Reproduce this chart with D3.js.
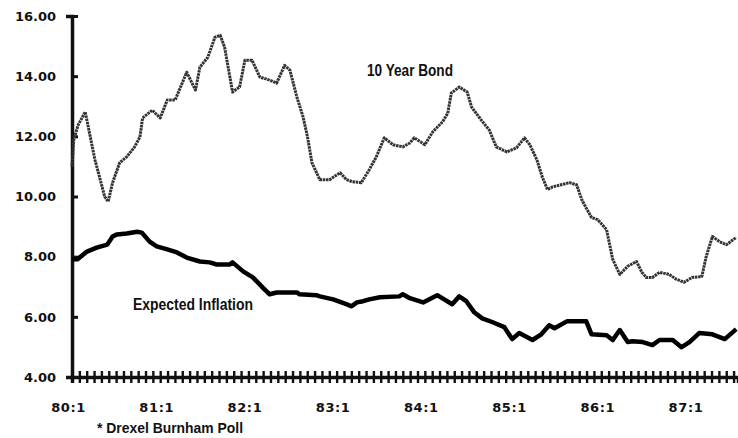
<!DOCTYPE html>
<html>
<head>
<meta charset="utf-8">
<script src="https://cdn.jsdelivr.net/npm/d3@7"></script>
<style>
  body { margin: 0; background: #fff; }
  svg text { fill: #111; }
</style>
</head>
<body>
<svg id="chart" width="738" height="438"></svg>
<script>
// quarter labels along the bottom
const yearLabels = ["80:1", "81:1", "82:1", "83:1", "84:1", "85:1", "86:1", "87:1"];
const yearValues = [1980, 1981, 1982, 1983, 1984, 1985, 1986, 1987];
const yTicks = [4, 6, 8, 10, 12, 14, 16];

// 10 year bond (roughly weekly)
const bondDates = [1980.00, 1980.02, 1980.07, 1980.15, 1980.26, 1980.32, 1980.37, 1980.41, 1980.46, 1980.54,
  1980.62, 1980.71, 1980.77, 1980.80, 1980.91, 1981.00, 1981.08, 1981.17, 1981.30, 1981.40,
  1981.45, 1981.54, 1981.62, 1981.68, 1981.73, 1981.82, 1981.90, 1981.96, 1982.04, 1982.13,
  1982.24, 1982.32, 1982.41, 1982.47, 1982.55, 1982.62, 1982.67, 1982.72, 1982.81, 1982.92,
  1983.04, 1983.11, 1983.18, 1983.28, 1983.37, 1983.45, 1983.54, 1983.64, 1983.75, 1983.83,
  1983.88, 1984.00, 1984.09, 1984.20, 1984.26, 1984.30, 1984.39, 1984.48, 1984.53, 1984.64,
  1984.73, 1984.81, 1984.93, 1985.04, 1985.13, 1985.19, 1985.27, 1985.33, 1985.39, 1985.45,
  1985.64, 1985.72, 1985.78, 1985.84, 1985.89, 1985.96, 1986.06, 1986.09, 1986.13, 1986.21,
  1986.30, 1986.40, 1986.46, 1986.51, 1986.58, 1986.66, 1986.77, 1986.85, 1986.94, 1987.03,
  1987.14, 1987.19, 1987.26, 1987.34, 1987.42, 1987.53];
const bondValues = [10.99, 11.88, 12.38, 12.81, 11.22, 10.56, 10.00, 9.83, 10.46, 11.12,
  11.32, 11.65, 11.98, 12.61, 12.87, 12.61, 13.21, 13.21, 14.13, 13.54,
  14.30, 14.63, 15.29, 15.36, 14.96, 13.47, 13.64, 14.53, 14.53, 13.97,
  13.87, 13.77, 14.36, 14.20, 13.30, 12.64, 11.98, 11.12, 10.56, 10.56,
  10.79, 10.56, 10.49, 10.46, 10.89, 11.32, 11.95, 11.72, 11.65, 11.78,
  11.95, 11.72, 12.15, 12.48, 12.77, 13.44, 13.64, 13.47, 12.97, 12.54,
  12.21, 11.65, 11.48, 11.62, 11.95, 11.72, 11.22, 10.66, 10.23, 10.32,
  10.46, 10.39, 9.89, 9.56, 9.30, 9.23, 8.90, 8.47, 7.91, 7.41,
  7.68, 7.84, 7.48, 7.31, 7.31, 7.48, 7.41, 7.25, 7.15, 7.31,
  7.34, 8.01, 8.67, 8.50, 8.40, 8.64];

// expected inflation (Drexel Burnham poll)
const inflDates = [1980.00, 1980.06, 1980.17, 1980.28, 1980.40, 1980.46, 1980.51, 1980.62, 1980.74, 1980.79,
  1980.88, 1980.96, 1981.08, 1981.19, 1981.30, 1981.45, 1981.56, 1981.64, 1981.79, 1981.82,
  1981.94, 1982.05, 1982.16, 1982.24, 1982.32, 1982.55, 1982.58, 1982.77, 1982.81, 1982.96,
  1983.11, 1983.17, 1983.23, 1983.30, 1983.37, 1983.49, 1983.71, 1983.75, 1983.83, 1983.98,
  1984.14, 1984.31, 1984.39, 1984.47, 1984.56, 1984.65, 1984.77, 1984.90, 1984.99, 1985.07,
  1985.22, 1985.32, 1985.41, 1985.47, 1985.61, 1985.83, 1985.89, 1986.06, 1986.13, 1986.21,
  1986.30, 1986.35, 1986.47, 1986.58, 1986.66, 1986.81, 1986.91, 1987.00, 1987.11, 1987.26,
  1987.40, 1987.53];
const inflValues = [7.91, 7.91, 8.17, 8.30, 8.40, 8.67, 8.74, 8.77, 8.83, 8.80,
  8.50, 8.34, 8.24, 8.14, 7.97, 7.84, 7.81, 7.74, 7.74, 7.81,
  7.51, 7.31, 6.98, 6.75, 6.81, 6.81, 6.75, 6.72, 6.68, 6.58,
  6.42, 6.35, 6.48, 6.52, 6.58, 6.65, 6.68, 6.75, 6.62, 6.48,
  6.72, 6.42, 6.68, 6.52, 6.15, 5.95, 5.82, 5.66, 5.26, 5.46,
  5.23, 5.42, 5.72, 5.62, 5.85, 5.85, 5.42, 5.39, 5.23, 5.56,
  5.16, 5.19, 5.16, 5.06, 5.23, 5.23, 4.99, 5.16, 5.46, 5.42,
  5.26, 5.59];

const svg = d3.select("#chart");

const x = d3.scaleLinear().domain([1980, 1987.55]).range([72, 738]);
const y = d3.scaleLinear().domain([4, 16]).range([377, 16]);

// monthly ticks across the bottom axis
const months = d3.range(0, 91).map(i => 1980 + i / 12);

const xAxis = svg.append("g")
  .attr("transform", `translate(0,${y(4)})`)
  .call(d3.axisBottom(x).tickValues(months).tickSize(6).tickFormat(""));
xAxis.select(".domain").attr("stroke", "#111").attr("stroke-width", 3.5);
xAxis.selectAll(".tick line")
  .attr("y1", -6)
  .attr("stroke", "#111")
  .attr("stroke-width", 2.4);

const xLabels = svg.append("g")
  .attr("transform", `translate(0,${y(4)})`)
  .call(d3.axisBottom(x).tickValues(yearValues).tickSize(0).tickPadding(26)
    .tickFormat((d, i) => yearLabels[i]));
xLabels.select(".domain").remove();
xLabels.selectAll("text")
  .attr("dx", -4)
  .style("font-family", "DejaVu Sans")
  .style("font-weight", "bold")
  .style("font-size", "13px")
  .style("letter-spacing", "0.6px");

const yAxis = svg.append("g")
  .attr("transform", `translate(${x(1980)},0)`)
  .call(d3.axisLeft(y).tickValues(yTicks).tickSize(6).tickPadding(10)
    .tickFormat(d3.format(".2f")));
yAxis.select(".domain").attr("stroke", "#111").attr("stroke-width", 3.5);
yAxis.selectAll(".tick line")
  .attr("x2", 6)
  .attr("stroke", "#111")
  .attr("stroke-width", 3);
yAxis.selectAll("text")
  .style("font-family", "DejaVu Sans")
  .style("font-weight", "bold")
  .style("font-size", "13px");

const line = d3.line()
  .x(d => x(d[0]))
  .y(d => y(d[1]));

svg.append("path")
  .datum(bondDates.map((d, i) => [d, bondValues[i]]))
  .attr("fill", "none")
  .attr("stroke", "#333")
  .attr("stroke-width", 3)
  .attr("stroke-dasharray", "2.5,0.7")
  .attr("stroke-linejoin", "round")
  .attr("d", line);

svg.append("path")
  .datum(inflDates.map((d, i) => [d, inflValues[i]]))
  .attr("fill", "none")
  .attr("stroke", "#000")
  .attr("stroke-width", 4.5)
  .attr("stroke-linejoin", "round")
  .attr("d", line);

// series labels
svg.append("text")
  .attr("x", 367).attr("y", 76)
  .attr("textLength", 86).attr("lengthAdjust", "spacingAndGlyphs")
  .style("font-family", "Liberation Sans")
  .style("font-weight", "bold")
  .style("font-size", "16px")
  .text("10 Year Bond");

svg.append("text")
  .attr("x", 133).attr("y", 310)
  .attr("textLength", 120).attr("lengthAdjust", "spacingAndGlyphs")
  .style("font-family", "Liberation Sans")
  .style("font-weight", "bold")
  .style("font-size", "16px")
  .text("Expected Inflation");

svg.append("text")
  .attr("x", 97).attr("y", 433)
  .attr("textLength", 146).attr("lengthAdjust", "spacingAndGlyphs")
  .style("font-family", "Liberation Sans")
  .style("font-weight", "bold")
  .style("font-size", "15px")
  .text("* Drexel Burnham Poll");
</script>
</body>
</html>
